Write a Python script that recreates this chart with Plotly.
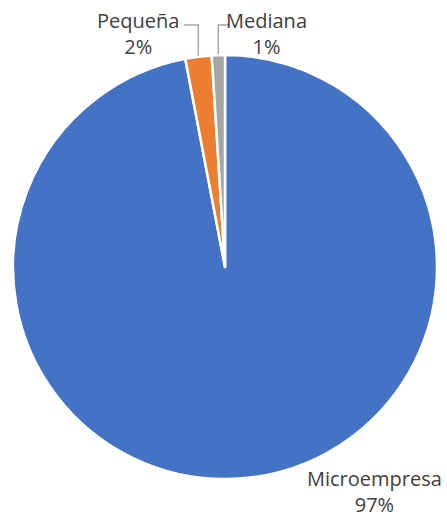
import math
import plotly.graph_objects as go

labels = ["Microempresa", "Pequeña", "Mediana"]
values = [97, 2, 1]
colors = ["#4472C4", "#ED7D31", "#A5A5A5"]

W, H = 447, 519
# pie circle in pixels
cx, cy, r = 225, 267, 212

fig = go.Figure(go.Pie(
    labels=labels,
    values=values,
    sort=False,
    direction="clockwise",
    rotation=0,
    textinfo="none",
    hoverinfo="label+percent",
    marker=dict(colors=colors, line=dict(color="white", width=2.5)),
    domain=dict(x=[(cx - r) / W, (cx + r) / W],
                y=[(H - cy - r) / H, (H - cy + r) / H]),
    showlegend=False,
))

# label positions (pixels): text centre, and leader-line elbow
label_pos = {
    "Microempresa": dict(tx=374, ty=491, elbow=None),
    "Pequeña": dict(tx=138, ty=33, elbow=(184, 25)),
    "Mediana": dict(tx=266, ty=33, elbow=(230, 25)),
}

total = sum(values)
cum = 0
annotations = []
shapes = []
for lab, val, col in zip(labels, values, colors):
    mid = (cum + val / 2) / total * 2 * math.pi
    cum += val
    pct = round(val / total * 100)
    p = label_pos[lab]
    annotations.append(dict(
        x=p["tx"] / W, y=1 - p["ty"] / H, xref="paper", yref="paper",
        text=f"{lab}<br>{pct}%", showarrow=False, align="center",
        font=dict(family="Open Sans", size=20, color="#404040"),
        xanchor="center", yanchor="middle",
    ))
    if p["elbow"] is not None:
        # start just outside the slice edge at its mid angle
        sx = cx + (r + 1) * math.sin(mid)
        sy = cy - (r + 1) * math.cos(mid)
        ex, ey = p["elbow"]
        path = f"M {sx/W},{1-sy/H} L {sx/W},{1-ey/H} L {ex/W},{1-ey/H}"
        shapes.append(dict(type="path", xref="paper", yref="paper", path=path,
                           line=dict(color="#A6A6A6", width=1.5)))

fig.update_layout(
    width=W, height=H,
    margin=dict(l=0, r=0, t=0, b=0),
    paper_bgcolor="white",
    plot_bgcolor="white",
    annotations=annotations,
    shapes=shapes,
)

fig.write_html("out.html", config={"displayModeBar": False},
               post_script="document.body.style.margin='0';")
